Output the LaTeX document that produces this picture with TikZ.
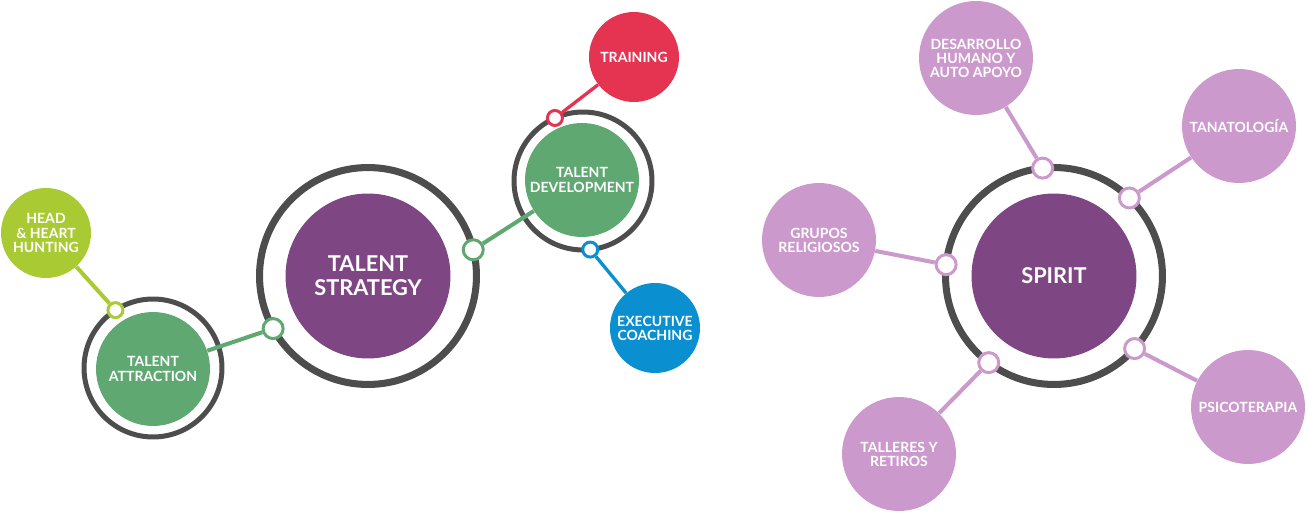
\documentclass[tikz,border=0pt]{standalone}
\usepackage{fontspec}
\setmainfont{Lato}
\usepackage{tikz}
\usetikzlibrary{positioning}
\definecolor{ringgray}{HTML}{4D4D4D}
\definecolor{hubpurple}{HTML}{7E4784}
\definecolor{lilac}{HTML}{CC99CC}
\definecolor{talentgreen}{HTML}{60A872}
\definecolor{limegreen}{HTML}{A9CA32}
\definecolor{trainred}{HTML}{E53352}
\definecolor{coachblue}{HTML}{0A8FD0}

\begin{document}
\begin{tikzpicture}[x=0.02cm,y=-0.02cm,
  ringbig/.style={circle,draw=ringgray,line width=4pt,minimum size=4.34cm,inner sep=0pt,outer sep=0pt},
  ringsmall/.style={circle,draw=ringgray,line width=2.85pt,minimum size=2.76cm,inner sep=0pt,outer sep=0pt},
  hub/.style={circle,fill=#1,minimum size=3.3cm,inner sep=0pt,text=white,align=center,font=\bfseries\fontsize{12.4}{13.7}\selectfont},
  sub/.style={circle,fill=#1,minimum size=2.28cm,inner sep=0pt,text=white,align=center,font=\bfseries\fontsize{8}{8}\selectfont},
  leaf/.style={circle,fill=#1,minimum size=1.8cm,inner sep=0pt,text=white,align=center,font=\bfseries\fontsize{8}{8}\selectfont},
  dotbig/.style={circle,draw=#1,fill=white,line width=1.7pt,minimum size=0.4cm,inner sep=0pt},
  dotsmall/.style={circle,draw=#1,fill=white,line width=1.7pt,minimum size=0.3cm,inner sep=0pt},
  link/.style={draw=#1,line width=2.3pt},
  thinlink/.style={draw=#1,line width=1.9pt}]
\useasboundingbox (0,0) rectangle (1306,513);
\node[ringbig] (tsring) at (368,276) {};
\node[hub=hubpurple] (ts) at (368,276) {TALENT\\STRATEGY};
\node[ringsmall] (taring) at (153,368) {};
\node[sub=talentgreen] (ta) at (153,369) {TALENT\\ATTRACTION};
\node[ringsmall] (tdring) at (583,181) {};
\node[sub=talentgreen] (td) at (582,180) {TALENT\\DEVELOPMENT};
\node[leaf=limegreen] (hh) at (46,233) {HEAD\\\& HEART\\HUNTING};
\node[leaf=trainred] (tr) at (634,57) {TRAINING};
\node[leaf=coachblue] (ec) at (655,328) {EXECUTIVE\\COACHING};
\node[dotsmall=limegreen] (hhdot) at (taring.123) {};
\node[dotbig=talentgreen] (tadot) at (tsring.209) {};
\node[dotbig=talentgreen] (tddot) at (tsring.14) {};
\node[dotsmall=trainred] (trdot) at (tdring.114) {};
\node[dotsmall=coachblue] (ecdot) at (tdring.276) {};
\draw[link=limegreen] (hh) -- (hhdot);
\draw[link=talentgreen] (ta) -- (tadot);
\draw[link=talentgreen] (tddot) -- (td);
\draw[thinlink=trainred] (trdot) -- (tr);
\draw[thinlink=coachblue] (ecdot) -- (ec);
\node[ringbig] (spring) at (1054,276) {};
\node[hub=hubpurple] (sp) at (1054,276) {SPIRIT};
\node[sub=lilac] (dh) at (976,58) {DESARROLLO\\HUMANO Y\\AUTO APOYO};
\node[sub=lilac] (tn) at (1239,126) {TANATOLOGÍA};
\node[sub=lilac] (gr) at (819,240) {GRUPOS\\RELIGIOSOS};
\node[sub=lilac] (tl) at (899,454) {TALLERES Y\\RETIROS};
\node[sub=lilac] (ps) at (1248,407) {PSICOTERAPIA};
\node[dotbig=lilac] (dhdot) at (spring.96) {};
\node[dotbig=lilac] (tndot) at (spring.46) {};
\node[dotbig=lilac] (grdot) at (spring.174) {};
\node[dotbig=lilac] (tldot) at (spring.233) {};
\node[dotbig=lilac] (psdot) at (spring.318) {};
\draw[link=lilac] (dh) -- (dhdot);
\draw[link=lilac] (tn) -- (tndot);
\draw[link=lilac] (gr) -- (grdot);
\draw[link=lilac] (tl) -- (tldot);
\draw[link=lilac] (ps) -- (psdot);
\end{tikzpicture}
\end{document}
